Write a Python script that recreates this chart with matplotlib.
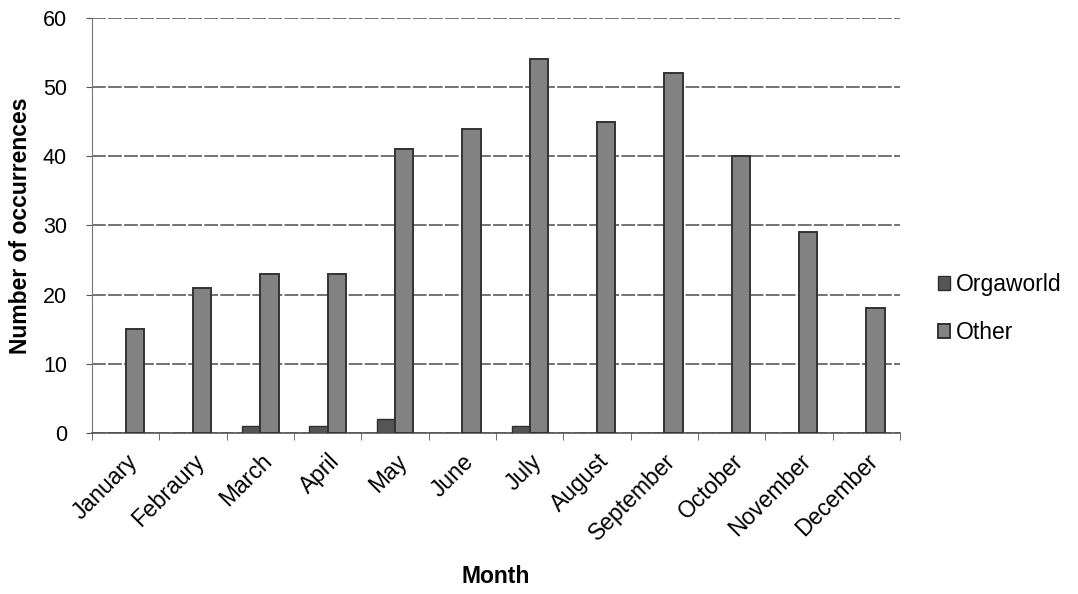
import numpy as np
import matplotlib.pyplot as plt

# data
months = ['January', 'Febraury', 'March', 'April', 'May', 'June', 'July',
          'August', 'September', 'October', 'November', 'December']
orgaworld = [0, 0, 1, 1, 2, 0, 1, 0, 0, 0, 0, 0]
other = [15, 21, 23, 23, 41, 44, 54, 45, 52, 40, 29, 18]

plt.rcParams['font.family'] = ['Liberation Sans', 'DejaVu Sans']

fig = plt.figure(figsize=(10.78, 5.94), dpi=100)
ax = fig.add_axes([0.0853, 0.271, 0.7497, 0.699])

x = np.arange(len(months))
w = 0.27
ax.bar(x - w / 2, orgaworld, w, color='#555555', edgecolor='#2e2e2e',
       linewidth=1.0, label='Orgaworld', zorder=3)
ax.bar(x + w / 2, other, w, color='#828282', edgecolor='#333333',
       linewidth=1.4, label='Other', zorder=3)

ax.set_xlim(-0.5, len(months) - 0.5)
ax.set_ylim(0, 60)
ax.set_yticks(range(0, 61, 10))
ax.yaxis.grid(True, color='#4d4d4d', linewidth=1.1, linestyle=(0, (9, 1.5)), zorder=0)
ax.set_axisbelow(True)

# category labels without tick marks, boundary tick marks as minor ticks
ax.set_xticks(x)
ax.set_xticklabels(months, rotation=45, ha='right', rotation_mode='anchor', fontsize=16.5)
ax.tick_params(axis='x', which='major', length=0, pad=12)
ax.set_xticks(np.arange(-0.5, len(months)), minor=True)
ax.tick_params(axis='x', which='minor', length=5, color='#555555', direction='out')
ax.tick_params(axis='y', labelsize=15.5, length=4, color='#555555', pad=14)

for s in ['top', 'right']:
    ax.spines[s].set_visible(False)
ax.spines['left'].set_color('#777777')
ax.spines['bottom'].set_color('#555555')
ax.spines['bottom'].set_linewidth(1.2)

ax.set_ylabel('Number of occurrences', fontsize=16.5, fontweight='bold', labelpad=8)
ax.set_xlabel('Month', fontsize=16.5, fontweight='bold', labelpad=14)

fig.legend(loc='center left', bbox_to_anchor=(0.87, 0.48), frameon=False,
           borderpad=0, borderaxespad=0, fontsize=16.5, handlelength=0.55,
           handleheight=0.55, handletextpad=0.25, labelspacing=1.1)

fig.savefig('out.png', dpi=100, facecolor='white')
